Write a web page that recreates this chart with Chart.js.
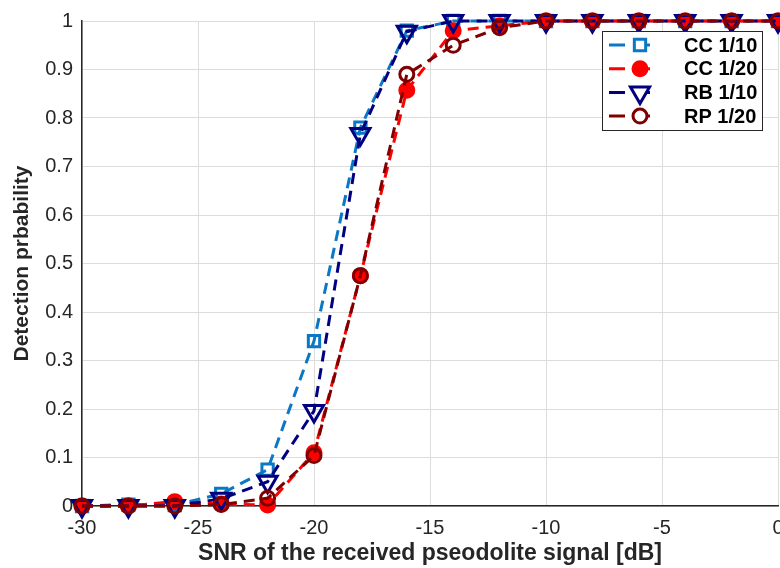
<!DOCTYPE html>
<html>
<head>
<meta charset="utf-8">
<title>Detection probability vs SNR</title>
<script src="https://cdn.jsdelivr.net/npm/chart.js@4/dist/chart.umd.min.js"></script>
<style>
  html, body { margin: 0; padding: 0; background: #fff; overflow: hidden; }
  #wrap { width: 800px; height: 568px; }
</style>
</head>
<body>
<div id="wrap"><canvas id="grafico" width="800" height="568"></canvas></div>
<script>
// Dados: SNR em dB e probabilidade de detecção por esquema
const snr = [-30, -28, -26, -24, -22, -20, -18, -16, -14, -12, -10, -8, -6, -4, -2, 0];
const cc10 = [0, 0.003, 0.002, 0.025, 0.075, 0.34, 0.78, 0.98, 1, 1, 1, 1, 1, 1, 1, 1];
const cc20 = [0, 0, 0.009, 0.004, 0.002, 0.11, 0.475, 0.857, 0.98, 0.99, 1, 1, 1, 1, 1, 1];
const rb10 = [0, 0, 0, 0.015, 0.05, 0.196, 0.767, 0.978, 1, 1, 1, 1, 1, 1, 1, 1];
const rp20 = [0, 0, 0, 0.003, 0.016, 0.104, 0.475, 0.89, 0.95, 0.986, 1, 1, 1, 1, 1, 1];
const xTicks = [-30, -25, -20, -15, -10, -5, 0];
const yTicks = [0, 0.1, 0.2, 0.3, 0.4, 0.5, 0.6, 0.7, 0.8, 0.9, 1];

const fonte = "'Liberation Sans', Arial, sans-serif";
const corTexto = "#262626";

// Estilo de cada série (linha tracejada + marcador)
const series = [
  { label: "CC 1/10", data: cc10, color: "#0A78C4", style: "rect", radius: 8, fill: false, rot: 0, order: 4 },
  { label: "CC 1/20", data: cc20, color: "#FF0000", style: "circle", radius: 7, fill: true, rot: 0, order: 3 },
  { label: "RB 1/10", data: rb10, color: "#000080", style: "triangle", radius: 11, fill: false, rot: 180, order: 2 },
  { label: "RP 1/20", data: rp20, color: "#7F0000", style: "circle", radius: 7, fill: false, rot: 0, order: 1 },
];

function toPoints(values) {
  return snr.map((x, i) => ({ x: x, y: values[i] }));
}

const datasets = series.map((s) => ({
  label: s.label,
  data: toPoints(s.data),
  borderColor: s.color,
  borderWidth: 3,
  borderDash: [11, 7],
  pointStyle: s.style,
  pointRadius: s.radius,
  pointRotation: s.rot,
  pointBorderWidth: 3,
  pointBorderColor: s.color,
  pointBackgroundColor: s.fill ? s.color : "rgba(0,0,0,0)",
  tension: 0,
  clip: false,
  order: s.order,
}));

// Desenha um marcador simples para a legenda
function drawMarker(ctx, s, x, y) {
  ctx.save();
  ctx.setLineDash([]);
  ctx.lineWidth = 3;
  ctx.strokeStyle = s.color;
  ctx.fillStyle = s.fill ? s.color : "#fff";
  ctx.beginPath();
  if (s.style === "rect") {
    const h = s.radius * Math.SQRT1_2;
    ctx.rect(x - h, y - h, 2 * h, 2 * h);
  } else if (s.style === "triangle") {
    const r = s.radius;
    ctx.moveTo(x - r * 0.87, y - r * 0.5);
    ctx.lineTo(x + r * 0.87, y - r * 0.5);
    ctx.lineTo(x, y + r);
    ctx.closePath();
  } else {
    ctx.arc(x, y, s.radius, 0, Math.PI * 2);
  }
  ctx.fill();
  ctx.stroke();
  ctx.restore();
}

// Legenda dentro da área do gráfico, canto superior direito
const legendaInterna = {
  id: "legendaInterna",
  afterDraw(chart) {
    const ctx = chart.ctx;
    const box = { x: 602, y: 31, w: 160, h: 99 };
    ctx.save();
    ctx.fillStyle = "#fff";
    ctx.fillRect(box.x, box.y, box.w, box.h);
    ctx.strokeStyle = "#262626";
    ctx.lineWidth = 1;
    ctx.strokeRect(box.x + 0.5, box.y + 0.5, box.w, box.h);

    series.forEach((s, i) => {
      const y = 45 + i * 23.7;
      ctx.strokeStyle = s.color;
      ctx.lineWidth = 3;
      ctx.setLineDash([16, 9]);
      ctx.beginPath();
      ctx.moveTo(609, y);
      ctx.lineTo(659, y);
      ctx.stroke();
      drawMarker(ctx, s, 640, y);

      ctx.setLineDash([]);
      ctx.fillStyle = "#000";
      ctx.font = "bold 20px " + fonte;
      ctx.textAlign = "left";
      ctx.textBaseline = "middle";
      ctx.fillText(s.label, 684, y + 1);
    });
    ctx.restore();
  },
};

const ctx = document.getElementById("grafico");

new Chart(ctx, {
  type: "line",
  data: { datasets: datasets },
  options: {
    responsive: false,
    animation: false,
    layout: { padding: { left: 0, top: 16, right: 22, bottom: 0 } },
    plugins: {
      legend: { display: false },
      tooltip: { enabled: false },
    },
    scales: {
      x: {
        type: "linear",
        min: -30,
        max: 0,
        afterBuildTicks: (scale) => { scale.ticks = xTicks.map((v) => ({ value: v })); },
        afterFit: (scale) => { scale.height = 62; },
        grid: { color: "#dcdcdc", lineWidth: 1, drawTicks: false },
        border: { color: corTexto, width: 1.5 },
        ticks: {
          padding: 10,
          color: corTexto,
          font: { family: fonte, size: 20 },
          callback: (v) => String(v),
        },
        title: {
          display: true,
          text: "SNR of the received pseodolite signal [dB]",
          color: corTexto,
          font: { family: fonte, size: 23, weight: "bold" },
          padding: { top: 0, bottom: 1 },
        },
      },
      y: {
        type: "linear",
        min: 0,
        max: 1,
        afterBuildTicks: (scale) => { scale.ticks = yTicks.map((v) => ({ value: v })); },
        afterFit: (scale) => { scale.width = 82; },
        grid: { color: "#dcdcdc", lineWidth: 1, drawTicks: false },
        border: { color: corTexto, width: 1.5 },
        ticks: {
          padding: 9,
          color: corTexto,
          font: { family: fonte, size: 20 },
          callback: (v) => String(Math.round(v * 10) / 10),
        },
        title: {
          display: true,
          text: "Detection prbability",
          color: corTexto,
          font: { family: fonte, size: 21, weight: "bold" },
          padding: { top: 10, bottom: 0 },
        },
      },
    },
  },
  plugins: [legendaInterna],
});
</script>
</body>
</html>
